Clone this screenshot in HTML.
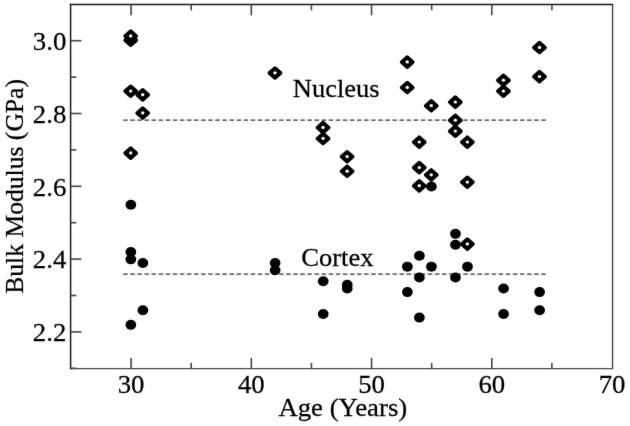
<!DOCTYPE html>
<html><head><meta charset="utf-8"><style>
html,body{margin:0;padding:0;background:#fff;}
body{width:630px;height:426px;overflow:hidden;}
svg{display:block;}
.t{font-family:"Liberation Serif",serif;font-size:26px;fill:#000;stroke:#000;stroke-width:0.25px;}
.d{fill:#000;stroke:#000;stroke-width:3.7;stroke-linejoin:round;}
</style></head><body>
<svg width="630" height="426" viewBox="0 0 630 426">
<defs><filter id="b" x="-5%" y="-5%" width="110%" height="110%" color-interpolation-filters="sRGB"><feConvolveMatrix order="3" kernelMatrix="0.00524 0.06192 0.00524 0.06192 0.73137 0.06192 0.00524 0.06192 0.00524" edgeMode="none" preserveAlpha="false"/></filter></defs>
<rect width="630" height="426" fill="#fff"/>
<g filter="url(#b)">
<line x1="70.6" y1="3.75" x2="70.6" y2="369.35" stroke="#1a1a1a" stroke-width="1.5"/>
<line x1="69.85" y1="4.5" x2="613.15" y2="4.5" stroke="#1a1a1a" stroke-width="1.5"/>
<line x1="612.55" y1="4.5" x2="612.55" y2="368.75" stroke="#3a3a3a" stroke-width="1.3"/>
<line x1="70.6" y1="368.65" x2="613.15" y2="368.65" stroke="#4a4a4a" stroke-width="1.1"/>
<line x1="131.10" y1="368.75" x2="131.10" y2="357.95" stroke="#444" stroke-width="1.6"/>
<line x1="131.10" y1="4.5" x2="131.10" y2="15.3" stroke="#444" stroke-width="1.6"/>
<text transform="translate(131.10,392.6) scale(1.03,1)" text-anchor="middle" class="t">30</text>
<line x1="191.21" y1="368.75" x2="191.21" y2="362.95" stroke="#444" stroke-width="1.6"/>
<line x1="191.21" y1="4.5" x2="191.21" y2="10.3" stroke="#444" stroke-width="1.6"/>
<line x1="251.33" y1="368.75" x2="251.33" y2="357.95" stroke="#444" stroke-width="1.6"/>
<line x1="251.33" y1="4.5" x2="251.33" y2="15.3" stroke="#444" stroke-width="1.6"/>
<text transform="translate(251.33,392.6) scale(1.03,1)" text-anchor="middle" class="t">40</text>
<line x1="311.44" y1="368.75" x2="311.44" y2="362.95" stroke="#444" stroke-width="1.6"/>
<line x1="311.44" y1="4.5" x2="311.44" y2="10.3" stroke="#444" stroke-width="1.6"/>
<line x1="371.56" y1="368.75" x2="371.56" y2="357.95" stroke="#444" stroke-width="1.6"/>
<line x1="371.56" y1="4.5" x2="371.56" y2="15.3" stroke="#444" stroke-width="1.6"/>
<text transform="translate(371.56,392.6) scale(1.03,1)" text-anchor="middle" class="t">50</text>
<line x1="431.67" y1="368.75" x2="431.67" y2="362.95" stroke="#444" stroke-width="1.6"/>
<line x1="431.67" y1="4.5" x2="431.67" y2="10.3" stroke="#444" stroke-width="1.6"/>
<line x1="491.79" y1="368.75" x2="491.79" y2="357.95" stroke="#444" stroke-width="1.6"/>
<line x1="491.79" y1="4.5" x2="491.79" y2="15.3" stroke="#444" stroke-width="1.6"/>
<text transform="translate(491.79,392.6) scale(1.03,1)" text-anchor="middle" class="t">60</text>
<line x1="551.90" y1="368.75" x2="551.90" y2="362.95" stroke="#444" stroke-width="1.6"/>
<line x1="551.90" y1="4.5" x2="551.90" y2="10.3" stroke="#444" stroke-width="1.6"/>
<text transform="translate(612.02,392.6) scale(1.03,1)" text-anchor="middle" class="t">70</text>
<line x1="70.6" y1="368.30" x2="76.39999999999999" y2="368.30" stroke="#444" stroke-width="1.6"/>
<line x1="70.6" y1="331.90" x2="81.39999999999999" y2="331.90" stroke="#444" stroke-width="1.6"/>
<text transform="translate(66.3,341.20) scale(1.03,1)" text-anchor="end" class="t">2.2</text>
<line x1="70.6" y1="295.50" x2="76.39999999999999" y2="295.50" stroke="#444" stroke-width="1.6"/>
<line x1="70.6" y1="259.10" x2="81.39999999999999" y2="259.10" stroke="#444" stroke-width="1.6"/>
<text transform="translate(66.3,268.40) scale(1.03,1)" text-anchor="end" class="t">2.4</text>
<line x1="70.6" y1="222.70" x2="76.39999999999999" y2="222.70" stroke="#444" stroke-width="1.6"/>
<line x1="70.6" y1="186.30" x2="81.39999999999999" y2="186.30" stroke="#444" stroke-width="1.6"/>
<text transform="translate(66.3,195.60) scale(1.03,1)" text-anchor="end" class="t">2.6</text>
<line x1="70.6" y1="149.90" x2="76.39999999999999" y2="149.90" stroke="#444" stroke-width="1.6"/>
<line x1="70.6" y1="113.50" x2="81.39999999999999" y2="113.50" stroke="#444" stroke-width="1.6"/>
<text transform="translate(66.3,122.80) scale(1.03,1)" text-anchor="end" class="t">2.8</text>
<line x1="70.6" y1="77.10" x2="76.39999999999999" y2="77.10" stroke="#444" stroke-width="1.6"/>
<line x1="70.6" y1="40.70" x2="81.39999999999999" y2="40.70" stroke="#444" stroke-width="1.6"/>
<text transform="translate(66.3,50.00) scale(1.03,1)" text-anchor="end" class="t">3.0</text>
<line x1="123.2" y1="120.05" x2="546.5" y2="120.05" stroke="#333" stroke-width="1.3" stroke-dasharray="4.5 2.585"/>
<line x1="123.2" y1="274.21" x2="546.5" y2="274.21" stroke="#333" stroke-width="1.3" stroke-dasharray="4.5 2.585"/>
<text transform="translate(292.8,97) scale(1.02,1)" class="t">Nucleus</text>
<text transform="translate(301.3,266) scale(1.02,1)" class="t">Cortex</text>
<text transform="translate(342.8,415.5) scale(1.03,1)" text-anchor="middle" class="t">Age (Years)</text>
<text transform="translate(22.5,186.4) rotate(-90) scale(0.985,1)" text-anchor="middle" class="t">Bulk Modulus (GPa)</text>
<path d="M125.15 40.25L130.70 35.35L136.25 40.25L130.70 45.15Z" class="d"/>
<ellipse cx="130.70" cy="40.10" rx="1.7" ry="1.6" fill="#fff"/>
<path d="M125.15 36.06L130.70 31.16L136.25 36.06L130.70 40.96Z" class="d"/>
<ellipse cx="130.70" cy="35.91" rx="1.7" ry="1.6" fill="#fff"/>
<path d="M125.15 91.21L130.70 86.31L136.25 91.21L130.70 96.11Z" class="d"/>
<ellipse cx="130.70" cy="91.06" rx="1.7" ry="1.6" fill="#fff"/>
<path d="M137.17 94.85L142.72 89.95L148.27 94.85L142.72 99.75Z" class="d"/>
<ellipse cx="142.72" cy="94.70" rx="1.7" ry="1.6" fill="#fff"/>
<path d="M137.17 113.05L142.72 108.15L148.27 113.05L142.72 117.95Z" class="d"/>
<ellipse cx="142.72" cy="112.90" rx="1.7" ry="1.6" fill="#fff"/>
<path d="M125.15 153.09L130.70 148.19L136.25 153.09L130.70 157.99Z" class="d"/>
<ellipse cx="130.70" cy="152.94" rx="1.7" ry="1.6" fill="#fff"/>
<path d="M269.43 73.01L274.98 68.11L280.53 73.01L274.98 77.91Z" class="d"/>
<ellipse cx="274.98" cy="72.86" rx="1.7" ry="1.6" fill="#fff"/>
<path d="M317.52 127.61L323.07 122.71L328.62 127.61L323.07 132.51Z" class="d"/>
<ellipse cx="323.07" cy="127.46" rx="1.7" ry="1.6" fill="#fff"/>
<path d="M317.52 138.53L323.07 133.63L328.62 138.53L323.07 143.43Z" class="d"/>
<ellipse cx="323.07" cy="138.38" rx="1.7" ry="1.6" fill="#fff"/>
<path d="M341.56 156.73L347.11 151.83L352.66 156.73L347.11 161.63Z" class="d"/>
<ellipse cx="347.11" cy="156.58" rx="1.7" ry="1.6" fill="#fff"/>
<path d="M341.56 171.29L347.11 166.39L352.66 171.29L347.11 176.19Z" class="d"/>
<ellipse cx="347.11" cy="171.14" rx="1.7" ry="1.6" fill="#fff"/>
<path d="M401.68 62.09L407.23 57.19L412.78 62.09L407.23 66.99Z" class="d"/>
<ellipse cx="407.23" cy="61.94" rx="1.7" ry="1.6" fill="#fff"/>
<path d="M401.68 87.57L407.23 82.67L412.78 87.57L407.23 92.47Z" class="d"/>
<ellipse cx="407.23" cy="87.42" rx="1.7" ry="1.6" fill="#fff"/>
<path d="M425.72 105.77L431.27 100.87L436.82 105.77L431.27 110.67Z" class="d"/>
<ellipse cx="431.27" cy="105.62" rx="1.7" ry="1.6" fill="#fff"/>
<path d="M449.77 102.13L455.32 97.23L460.87 102.13L455.32 107.03Z" class="d"/>
<ellipse cx="455.32" cy="101.98" rx="1.7" ry="1.6" fill="#fff"/>
<path d="M449.77 120.33L455.32 115.43L460.87 120.33L455.32 125.23Z" class="d"/>
<ellipse cx="455.32" cy="120.18" rx="1.7" ry="1.6" fill="#fff"/>
<path d="M449.77 131.25L455.32 126.35L460.87 131.25L455.32 136.15Z" class="d"/>
<ellipse cx="455.32" cy="131.10" rx="1.7" ry="1.6" fill="#fff"/>
<path d="M413.70 142.17L419.25 137.27L424.80 142.17L419.25 147.07Z" class="d"/>
<ellipse cx="419.25" cy="142.02" rx="1.7" ry="1.6" fill="#fff"/>
<path d="M461.79 142.17L467.34 137.27L472.89 142.17L467.34 147.07Z" class="d"/>
<ellipse cx="467.34" cy="142.02" rx="1.7" ry="1.6" fill="#fff"/>
<path d="M413.70 167.65L419.25 162.75L424.80 167.65L419.25 172.55Z" class="d"/>
<ellipse cx="419.25" cy="167.50" rx="1.7" ry="1.6" fill="#fff"/>
<path d="M425.72 174.93L431.27 170.03L436.82 174.93L431.27 179.83Z" class="d"/>
<ellipse cx="431.27" cy="174.78" rx="1.7" ry="1.6" fill="#fff"/>
<path d="M413.70 185.85L419.25 180.95L424.80 185.85L419.25 190.75Z" class="d"/>
<ellipse cx="419.25" cy="185.70" rx="1.7" ry="1.6" fill="#fff"/>
<path d="M461.79 182.21L467.34 177.31L472.89 182.21L467.34 187.11Z" class="d"/>
<ellipse cx="467.34" cy="182.06" rx="1.7" ry="1.6" fill="#fff"/>
<path d="M461.79 244.09L467.34 239.19L472.89 244.09L467.34 248.99Z" class="d"/>
<ellipse cx="467.34" cy="243.94" rx="1.7" ry="1.6" fill="#fff"/>
<path d="M497.86 80.29L503.41 75.39L508.96 80.29L503.41 85.19Z" class="d"/>
<ellipse cx="503.41" cy="80.14" rx="1.7" ry="1.6" fill="#fff"/>
<path d="M497.86 91.21L503.41 86.31L508.96 91.21L503.41 96.11Z" class="d"/>
<ellipse cx="503.41" cy="91.06" rx="1.7" ry="1.6" fill="#fff"/>
<path d="M533.93 47.53L539.48 42.63L545.03 47.53L539.48 52.43Z" class="d"/>
<ellipse cx="539.48" cy="47.38" rx="1.7" ry="1.6" fill="#fff"/>
<path d="M533.93 76.65L539.48 71.75L545.03 76.65L539.48 81.55Z" class="d"/>
<ellipse cx="539.48" cy="76.50" rx="1.7" ry="1.6" fill="#fff"/>
<ellipse cx="130.85" cy="204.75" rx="5.35" ry="5.0" fill="#000"/>
<ellipse cx="130.85" cy="252.07" rx="5.35" ry="5.0" fill="#000"/>
<ellipse cx="130.85" cy="259.35" rx="5.35" ry="5.0" fill="#000"/>
<ellipse cx="142.87" cy="262.99" rx="5.35" ry="5.0" fill="#000"/>
<ellipse cx="142.87" cy="310.31" rx="5.35" ry="5.0" fill="#000"/>
<ellipse cx="130.85" cy="324.87" rx="5.35" ry="5.0" fill="#000"/>
<ellipse cx="275.13" cy="262.99" rx="5.35" ry="5.0" fill="#000"/>
<ellipse cx="275.13" cy="270.27" rx="5.35" ry="5.0" fill="#000"/>
<ellipse cx="323.22" cy="281.19" rx="5.35" ry="5.0" fill="#000"/>
<ellipse cx="323.22" cy="313.95" rx="5.35" ry="5.0" fill="#000"/>
<ellipse cx="347.26" cy="284.83" rx="5.35" ry="5.0" fill="#000"/>
<ellipse cx="347.26" cy="288.47" rx="5.35" ry="5.0" fill="#000"/>
<ellipse cx="431.42" cy="186.55" rx="5.35" ry="5.0" fill="#000"/>
<ellipse cx="455.47" cy="233.87" rx="5.35" ry="5.0" fill="#000"/>
<ellipse cx="455.47" cy="244.79" rx="5.35" ry="5.0" fill="#000"/>
<ellipse cx="419.40" cy="255.71" rx="5.35" ry="5.0" fill="#000"/>
<ellipse cx="407.38" cy="266.63" rx="5.35" ry="5.0" fill="#000"/>
<ellipse cx="431.42" cy="266.63" rx="5.35" ry="5.0" fill="#000"/>
<ellipse cx="467.49" cy="266.63" rx="5.35" ry="5.0" fill="#000"/>
<ellipse cx="419.40" cy="277.55" rx="5.35" ry="5.0" fill="#000"/>
<ellipse cx="455.47" cy="277.55" rx="5.35" ry="5.0" fill="#000"/>
<ellipse cx="407.38" cy="292.11" rx="5.35" ry="5.0" fill="#000"/>
<ellipse cx="419.40" cy="317.59" rx="5.35" ry="5.0" fill="#000"/>
<ellipse cx="503.56" cy="288.47" rx="5.35" ry="5.0" fill="#000"/>
<ellipse cx="503.56" cy="313.95" rx="5.35" ry="5.0" fill="#000"/>
<ellipse cx="539.63" cy="292.11" rx="5.35" ry="5.0" fill="#000"/>
<ellipse cx="539.63" cy="310.31" rx="5.35" ry="5.0" fill="#000"/>
</g>
</svg>
</body></html>
